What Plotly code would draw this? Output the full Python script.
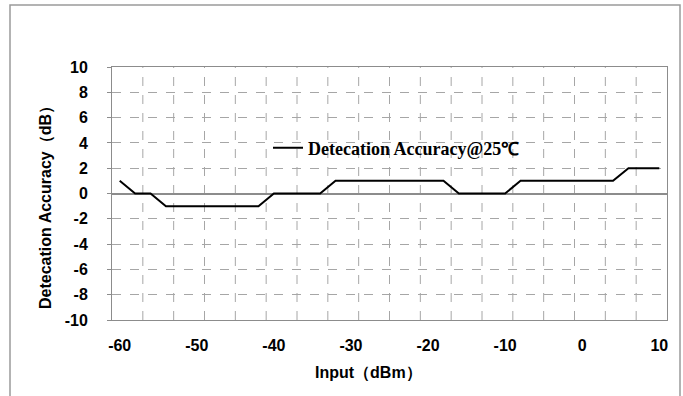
import plotly.graph_objects as go

input_dbm = [-60, -58, -56, -54, -52, -50, -48, -46, -44, -42, -40, -38, -36, -34,
             -32, -30, -28, -26, -24, -22, -20, -18, -16, -14, -12, -10, -8, -6,
             -4, -2, 0, 2, 4, 6, 8, 10]
accuracy_db = [1, 0, 0, -1, -1, -1, -1, -1, -1, -1, 0, 0, 0, 0,
               1, 1, 1, 1, 1, 1, 1, 1, 0, 0, 0, 0, 1, 1,
               1, 1, 1, 1, 1, 2, 2, 2]
series_name = "Detecation Accuracy@25℃"
x_tick_vals = [-60, -50, -40, -30, -20, -10, 0, 10]
y_tick_vals = [-10, -8, -6, -4, -2, 0, 2, 4, 6, 8, 10]

W, H = 683, 396
L, R, T, B = 112, 16, 67, 76
pw, ph = W - L - R, H - T - B

def px_x(p):
    return (p - L) / pw

def px_y(p):
    return (H - B - p) / ph

fig = go.Figure()
fig.add_trace(go.Scatter(x=input_dbm, y=accuracy_db, mode="lines", name=series_name,
                         line=dict(color="black", width=2), showlegend=True))

grid_color = "#a6a6a6"
# vertical dashed gridlines every two categories
for k in range(1, 18):
    xv = -61 + 4 * k
    fig.add_shape(type="line", xref="x", yref="paper", x0=xv, x1=xv, y0=0, y1=1,
                  line=dict(color=grid_color, width=1, dash="dash"), layer="below")

sans = "Liberation Sans, Arial, sans-serif"
fig.update_layout(
    width=W, height=H,
    margin=dict(l=L, r=R, t=T, b=B),
    paper_bgcolor="white", plot_bgcolor="white",
    showlegend=True,
    legend=dict(x=px_x(268), y=px_y(148), xanchor="left", yanchor="middle",
                bgcolor="rgba(0,0,0,0)", borderwidth=0,
                font=dict(family="Liberation Serif, Times New Roman, serif", size=18, color="black",
                          weight="bold")),
    xaxis=dict(range=[-61, 11], tickmode="array", tickvals=x_tick_vals,
               ticktext=[str(v) for v in x_tick_vals],
               showgrid=False, zeroline=False, showline=True, linecolor="#8c8c8c", linewidth=1,
               mirror=True, ticks="", ticklabelstandoff=11,
               tickfont=dict(family=sans, size=16, color="black", weight="bold")),
    yaxis=dict(range=[-10, 10], tickmode="array", tickvals=y_tick_vals,
               ticktext=[str(v) for v in y_tick_vals],
               showgrid=True, gridcolor=grid_color, griddash="dash", gridwidth=1,
               zeroline=True, zerolinecolor="#8c8c8c", zerolinewidth=1.5,
               showline=True, linecolor="#8c8c8c", linewidth=1, mirror=True,
               ticks="outside", ticklen=4, tickcolor="#8c8c8c", ticklabelstandoff=16,
               tickfont=dict(family=sans, size=16, color="black", weight="bold")),
    annotations=[
        dict(text="Input（dBm）", xref="paper", yref="paper", x=px_x(368), y=px_y(373),
             xanchor="center", yanchor="middle", showarrow=False,
             font=dict(family=sans, size=16, color="black", weight="bold")),
        dict(text="Detecation Accuracy（dB）", xref="paper", yref="paper", x=px_x(46), y=px_y(204),
             xanchor="center", yanchor="middle", showarrow=False, textangle=-90,
             font=dict(family=sans, size=16, color="black", weight="bold")),
    ],
)

# outer chart border
fig.add_shape(type="rect", xref="paper", yref="paper",
              x0=px_x(10), x1=px_x(680), y0=px_y(400), y1=px_y(5),
              line=dict(color="#9a9a9a", width=1.5), fillcolor="rgba(0,0,0,0)", layer="below")

fig.write_html("out.html", config={"displayModeBar": False},
               post_script="document.body.style.margin='0';document.body.style.overflow='hidden';")
